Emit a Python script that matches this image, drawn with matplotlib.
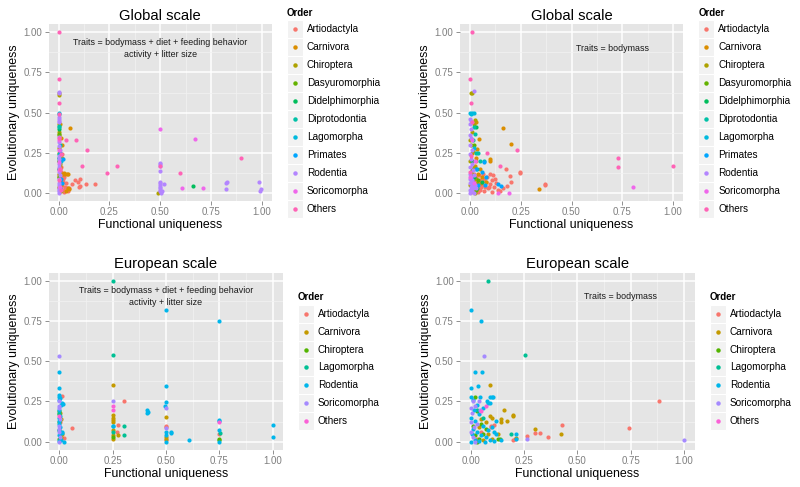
import matplotlib.pyplot as plt
from matplotlib.patches import Rectangle
from matplotlib.lines import Line2D

plt.rcParams['font.family'] = ['Liberation Sans', 'DejaVu Sans']

W, H = 800, 487

orders_glob = ['Artiodactyla', 'Carnivora', 'Chiroptera', 'Dasyuromorphia',
               'Didelphimorphia', 'Diprotodontia', 'Lagomorpha', 'Primates',
               'Rodentia', 'Soricomorpha', 'Others']
orders_eur = ['Artiodactyla', 'Carnivora', 'Chiroptera', 'Lagomorpha',
              'Rodentia', 'Soricomorpha', 'Others']

# ggplot default hue palette
colors_glob = ['#F8766D', '#DB8E00', '#AEA200', '#64B200', '#00BD5C', '#00C1A7',
               '#00BADE', '#00A6FF', '#B385FF', '#EF67EB', '#FF63B6']
colors_eur = ['#F8766D', '#C49A00', '#53B400', '#00C094', '#00B6EB', '#A58AFF', '#FB61D7']

tick_vals = [0, 0.25, 0.5, 0.75, 1.0]
tick_labels = ['0.00', '0.25', '0.50', '0.75', '1.00']

# --- Global scale, traits = bodymass + diet + feeding behavior + activity + litter size
g1_x = [
    [0.016, 0.012, 0.008, 0.005, 0.01, 0.003, 0.015, 0.02, 0.008, 0.012, 0.005, 0.018, 0.01, 0.003, 0.02, 0.006,
     0.025, 0.03, 0.035, 0.022, 0.04, 0.05, 0.045, 0.067, 0.079, 0.093, 0.105, 0.1, 0.103, 0.136, 0.179, 0.043, 0.028, 0.013],
    [0.057, 0.016, 0.01, 0.005, 0.003, 0.01, 0.02, 0.03, 0.04, 0.045, 0.05, 0.045, 0.035, 0.008, 0.012, 0.005, 0.015, 0.025],
    [0.0, 0.003, 0.0, 0.0, 0.003, 0.003, 0.0, 0.005, 0.0, 0.003, 0.0, 0.005, 0.0, 0.01, 0.49, 0.5],
    [0.0, 0.003, 0.0],
    [0.66, 0.0, 0.0],
    [0.0, 0.0, 0.005, 0.0],
    [0.0, 0.003, 0.0, 0.01],
    [0.02, 0.005, 0.0, 0.015, 0.01, 0.008],
    [0, 0, 0, 0, 0, 0, 0.003, 0, 0, 0.005, 0, 0, 0.003, 0, 0, 0.005, 0, 0, 0.003, 0, 0, 0, 0,
     0.5, 0.498, 0.5, 0.498, 0.5, 0.498, 0.5, 0.5, 0.498, 0.5, 0.5, 0.502, 0.516, 0.51, 0.83, 0.825, 0.826, 0.988, 0.998, 0.99],
    [0.498, 0.669, 0.607, 0.71, 0.0, 0.0, 0.003, 0.0, 0.005],
    [0.0, 0.0, 0.0, 0.0, 0.003, 0.037, 0.084, 0.138, 0.116, 0.285, 0.237, 0.597, 0.5, 0.895, 0.01, 0.005, 0.0, 0.01],
]
g1_y = [
    [0.24, 0.21, 0.19, 0.15, 0.13, 0.11, 0.10, 0.09, 0.08, 0.07, 0.06, 0.05, 0.04, 0.03, 0.02, 0.01,
     0.10, 0.04, 0.06, 0.07, 0.02, 0.03, 0.01, 0.054, 0.081, 0.07, 0.087, 0.037, 0.042, 0.058, 0.058, 0.03, 0.005, 0.16],
    [0.406, 0.30, 0.34, 0.43, 0.20, 0.12, 0.12, 0.12, 0.12, 0.115, 0.025, 0.03, 0.015, 0.08, 0.05, 0.16, 0.22, 0.125],
    [0.62, 0.61, 0.43, 0.38, 0.36, 0.28, 0.25, 0.18, 0.15, 0.12, 0.10, 0.07, 0.04, 0.01, 0.0, 0.005],
    [0.37, 0.22, 0.10],
    [0.044, 0.40, 0.20],
    [0.41, 0.42, 0.30, 0.24],
    [0.50, 0.49, 0.22, 0.20],
    [0.21, 0.25, 0.15, 0.06, 0.09, 0.03],
    [0.63, 0.62, 0.47, 0.46, 0.45, 0.44, 0.35, 0.32, 0.29, 0.27, 0.23, 0.21, 0.18, 0.16, 0.13, 0.11, 0.09, 0.06, 0.05, 0.03, 0.02, 0.01, 0.0,
     0.189, 0.18, 0.17, 0.137, 0.07, 0.06, 0.05, 0.04, 0.03, 0.02, 0.01, 0.0, 0.054, 0.01, 0.068, 0.064, 0.025, 0.069, 0.027, 0.01],
    [0.398, 0.334, 0.031, 0.033, 0.33, 0.27, 0.19, 0.14, 0.04],
    [1.0, 0.71, 0.56, 0.49, 0.34, 0.33, 0.33, 0.27, 0.17, 0.17, 0.126, 0.126, 0.168, 0.218, 0.24, 0.15, 0.08, 0.02],
]

# --- Global scale, traits = bodymass
g2_x = [
    [0.369, 0.369, 0.245, 0.245, 0.179, 0.197, 0.2, 0.18, 0.115, 0.11, 0.1, 0.09, 0.13, 0.12, 0.14, 0.15, 0.16, 0.1, 0.085,
     0.07, 0.06, 0.05, 0.04, 0.03, 0.07, 0.08, 0.065, 0.05, 0.04, 0.03, 0.025, 0.02, 0.095, 0.11, 0.125, 0.055, 0.035,
     0.015, 0.045, 0.075, 0.02, 0.03, 0.015],
    [0.161, 0.2, 0.1, 0.1, 0.342, 0.045, 0.036, 0.03, 0.05, 0.06, 0.02, 0.04, 0.025, 0.015, 0.03, 0.08, 0.055, 0.01],
    [0.005, 0.012, 0.026, 0.02, 0.01, 0.0, 0.005, 0.015, 0.0, 0.02, 0.01, 0.03, 0.0, 0.015, 0.035, 0.025],
    [0.02, 0.01, 0.04, 0.03],
    [0.03, 0.01, 0.02, 0.035, 0.06],
    [0.02, 0.025, 0.015, 0.03, 0.04, 0.05, 0.07, 0.035],
    [0.002, 0.01, 0.02, 0.005, 0.02],
    [0.079, 0.074, 0.14, 0.152, 0.07, 0.06, 0.04, 0.03, 0.01],
    [0.02, 0.0, 0.005, 0.0, 0.003, 0.0, 0.005, 0.0, 0.01, 0.0, 0.005, 0.01, 0.0, 0.015, 0.0, 0.005, 0.01, 0.0, 0.005,
     0.015, 0.0, 0.01, 0.02, 0.025, 0.02, 0.03, 0.0, 0.005, 0.012, 0.0],
    [0.805, 0.19, 0.14, 0.025, 0.02, 0.01, 0.0],
    [0.008, 0.0, 0.005, 0.01, 0.232, 0.084, 0.148, 0.73, 0.73, 1.0, 0.005, 0.0],
]
g2_y = [
    [0.056, 0.048, 0.133, 0.124, 0.151, 0.106, 0.07, 0.045, 0.11, 0.08, 0.055, 0.03, 0.06, 0.04, 0.02, 0.01, 0.03, 0.12, 0.1,
     0.09, 0.05, 0.02, 0.005, 0.01, 0.01, 0.07, 0.12, 0.08, 0.06, 0.1, 0.03, 0.07, 0.04, 0.005, 0.09, 0.035, 0.04,
     0.005, 0.11, 0.04, 0.12, 0.2, 0.15],
    [0.406, 0.303, 0.21, 0.2, 0.023, 0.334, 0.276, 0.22, 0.15, 0.1, 0.05, 0.12, 0.17, 0.09, 0.44, 0.07, 0.06, 0.25],
    [0.62, 0.62, 0.455, 0.43, 0.38, 0.33, 0.3, 0.26, 0.2, 0.16, 0.12, 0.09, 0.05, 0.02, 0.06, 0.0],
    [0.3, 0.14, 0.08, 0.02],
    [0.41, 0.2, 0.1, 0.03, 0.07],
    [0.41, 0.37, 0.33, 0.25, 0.25, 0.2, 0.2, 0.15],
    [0.5, 0.5, 0.5, 0.49, 0.28],
    [0.1, 0.052, 0.055, 0.045, 0.19, 0.13, 0.05, 0.15, 0.08],
    [0.632, 0.46, 0.45, 0.43, 0.4, 0.36, 0.34, 0.3, 0.27, 0.24, 0.21, 0.18, 0.16, 0.14, 0.12, 0.1, 0.08, 0.06, 0.04,
     0.03, 0.02, 0.01, 0.0, 0.05, 0.11, 0.03, 0.0, 0.07, 0.05, 0.09],
    [0.04, 0.0, 0.0, 0.2, 0.06, 0.33, 0.1],
    [1.0, 0.71, 0.56, 0.44, 0.27, 0.249, 0.168, 0.218, 0.164, 0.17, 0.23, 0.13],
]

# --- European scale, traits = bodymass + diet + feeding behavior + activity + litter size
e1_x = [
    [0.305, 0.277, 0.058, 0.011, 0.02, 0.5, 0.5, 0.5, 0.75, 0.27, 0.005, 0.01],
    [0.25, 0.25, 0.25, 0.25, 0.25, 0.252, 0.25, 0.25, 0.274, 0.5, 0.502, 0.5, 0.01, 0.012, 0.005, 0.01],
    [0.75, 0.75, 0.0, 0.0, 0.0, 0.0, 0.0, 0.25],
    [0.253, 0.253, 0.305, 0.305, 0.753, 0.25, 0.0],
    [0.5, 0.747, 0.0, 0.0, 0.5, 0.5, 0.497, 0.41, 0.415, 0.41, 0.522, 0.525, 0.606, 0.747, 0.748, 0.75, 0.75, 1.0, 1.0,
     0.5, 0.5, 0.5, 0.25, 0.252, 0.0, 0.0, 0.003, 0.0, 0.01, 0.018, 0.015, 0.0, 0.003, 0.0, 0.0, 0.0, 0.005, 0.0,
     0.012, 0.015, 0.0, 0.005, 0.0, 0.02, 0.008],
    [0.0, 0.25, 0.5, 0.5, 0.0, 0.0, 0.003, 0.0, 0.0, 0.0, 0.003, 0.0, 0.0],
    [0.25, 0.25, 0.75, 0.0],
]
e1_y = [
    [0.253, 0.106, 0.085, 0.284, 0.025, 0.1, 0.09, 0.01, 0.05, 0.06, 0.12, 0.05],
    [0.354, 0.165, 0.15, 0.135, 0.12, 0.07, 0.04, 0.02, 0.044, 0.155, 0.03, 0.02, 0.14, 0.05, 0.18, 0.03],
    [0.02, 0.01, 0.19, 0.17, 0.12, 0.02, 0.07, 0.03],
    [1.0, 0.538, 0.1, 0.044, 0.056, 0.06, 0.18],
    [0.816, 0.748, 0.433, 0.335, 0.344, 0.248, 0.22, 0.197, 0.186, 0.18, 0.062, 0.052, 0.01, 0.137, 0.128, 0.072, 0.0,
     0.104, 0.031, 0.06, 0.04, 0.0, 0.1, 0.095, 0.29, 0.28, 0.27, 0.26, 0.23, 0.235, 0.24, 0.2, 0.16, 0.15, 0.13,
     0.11, 0.09, 0.07, 0.06, 0.055, 0.04, 0.02, 0.005, 0.0, 0.01],
    [0.532, 0.255, 0.21, 0.085, 0.25, 0.22, 0.14, 0.1, 0.08, 0.06, 0.03, 0.0, 0.21],
    [0.225, 0.195, 0.12, 0.16],
]

# --- European scale, traits = bodymass
e2_x = [
    [0.881, 0.744, 0.426, 0.364, 0.325, 0.301, 0.262, 0.208, 0.093, 0.11, 0.093, 0.2, 0.05, 0.03],
    [0.092, 0.157, 0.2, 0.2, 0.142, 0.142, 0.172, 0.3, 0.425, 0.212, 0.126, 0.09, 0.1, 0.05, 0.07, 0.08, 0.06, 0.04, 0.1],
    [0.139, 0.13, 0.02, 0.03, 0.06, 0.04, 0.01, 0.05, 0.02, 0.07, 0.03],
    [0.08, 0.255, 0.19, 0.03, 0.06],
    [0.003, 0.05, 0.022, 0.052, 0.0, 0.034, 0.09, 0.098, 0.106, 0.08, 0.09, 0.214, 0.214, 0.119, 0.14, 0.0, 0.01,
     0.03, 0.015, 0.04, 0.0, 0.02, 0.06, 0.01, 0.03, 0.05, 0.07, 0.09, 0.0, 0.02, 0.04, 0.065, 0.11, 0.08, 0.12,
     0.1, 0.06, 0.075, 0.045, 0.005, 0.11],
    [0.061, 1.0, 0.262, 0.0, 0.01, 0.02, 0.005, 0.0, 0.015, 0.0, 0.01, 0.02, 0.045, 0.03, 0.04],
    [0.073, 0.05],
]
e2_y = [
    [0.25, 0.083, 0.104, 0.027, 0.056, 0.056, 0.035, 0.015, 0.097, 0.104, 0.09, 0.01, 0.06, 0.02],
    [0.352, 0.199, 0.164, 0.158, 0.143, 0.12, 0.13, 0.08, 0.046, 0.025, 0.048, 0.16, 0.15, 0.14, 0.12, 0.045, 0.01, 0.09, 0.02],
    [0.019, 0.015, 0.28, 0.19, 0.05, 0.02, 0.1, 0.11, 0.04, 0.08, 0.0],
    [1.0, 0.538, 0.05, 0.2, 0.15],
    [0.816, 0.748, 0.433, 0.433, 0.335, 0.344, 0.276, 0.276, 0.276, 0.242, 0.242, 0.046, 0.02, 0.128, 0.012, 0.28, 0.26,
     0.23, 0.2, 0.17, 0.15, 0.13, 0.1, 0.08, 0.06, 0.04, 0.03, 0.01, 0.0, 0.01, 0.005, 0.0, 0.06, 0.07, 0.05,
     0.09, 0.21, 0.25, 0.28, 0.05, 0.005],
    [0.532, 0.008, 0.02, 0.21, 0.25, 0.22, 0.18, 0.12, 0.09, 0.06, 0.03, 0.0, 0.2, 0.11, 0.25],
    [0.224, 0.19],
]

note_all = 'Traits = bodymass + diet + feeding behavior\nactivity + litter size'
note_bm = 'Traits = bodymass'

fig = plt.figure(figsize=(8, 4.87), dpi=100)


def draw_panel(box, xs, ys, orders, colors, title, title_y, note, note_x,
               leg_x, leg_title_y, leg_y0, leg_step):
    l, t, r, b = box
    ax = fig.add_axes([l / W, 1 - b / H, (r - l) / W, (b - t) / H])
    ax.set_facecolor('#E5E5E5')
    for xv, yv, c in zip(xs, ys, colors):
        ax.scatter(xv, yv, s=9, color=c, linewidths=0, zorder=3)
    ax.set_xlim(-0.05, 1.05)
    ax.set_ylim(-0.05, 1.05)
    ax.set_xticks(tick_vals)
    ax.set_xticklabels(tick_labels)
    ax.set_yticks(tick_vals)
    ax.set_yticklabels(tick_labels)
    ax.set_xticks([0.125, 0.375, 0.625, 0.875], minor=True)
    ax.set_yticks([0.125, 0.375, 0.625, 0.875], minor=True)
    ax.grid(which='major', color='white', linewidth=1.1)
    ax.grid(which='minor', color='#F2F2F2', linewidth=0.5)
    ax.set_axisbelow(True)
    for s in ax.spines.values():
        s.set_visible(False)
    ax.tick_params(which='major', length=2.6, width=0.6, color='#7F7F7F',
                   labelcolor='#7F7F7F', labelsize=7.0, pad=2.0)
    ax.tick_params(which='minor', length=0)
    ax.text(note_x, 0.9, note, ha='center', va='center', fontsize=6.4,
            linespacing=1.45, color='#1A1A1A', zorder=4)

    cx = (l + r) / 2
    cy = (t + b) / 2
    fig.text(cx / W, 1 - title_y / H, title, ha='center', va='baseline', fontsize=10.6)
    fig.text(cx / W, 1 - (b + 24) / H, 'Functional uniqueness', ha='center', va='center', fontsize=8.9)
    fig.text((l - 34.5) / W, 1 - cy / H, 'Evolutionary uniqueness', ha='center', va='center',
             rotation=90, fontsize=8.9)

    # legend
    fig.text(leg_x / W, 1 - leg_title_y / H, 'Order', ha='left', va='center',
             fontsize=7, fontweight='bold')
    for i, (name, c) in enumerate(zip(orders, colors)):
        yc = leg_y0 + i * leg_step
        fig.add_artist(Rectangle((leg_x / W, 1 - (yc + leg_step / 2) / H), 16 / W, leg_step / H,
                                 transform=fig.transFigure, facecolor='#F2F2F2',
                                 edgecolor='white', linewidth=0.8))
        fig.add_artist(Line2D([(leg_x + 8) / W], [1 - yc / H], transform=fig.transFigure,
                              marker='o', markersize=2.2, color=c, linestyle='none'))
        fig.text((leg_x + 20) / W, 1 - yc / H, name, ha='left', va='center', fontsize=7.2)


draw_panel((48.5, 24.3, 272, 201), g1_x, g1_y, orders_glob, colors_glob, 'Global scale', 20.5,
           note_all, 0.5, 286.7, 13, 29.3, 17.93)
draw_panel((459.9, 24.3, 683.1, 201), g2_x, g2_y, orders_glob, colors_glob, 'Global scale', 20.5,
           note_bm, 0.7, 698.3, 13, 29.3, 17.93)
draw_panel((48.6, 272.6, 283.4, 449.8), e1_x, e1_y, orders_eur, colors_eur, 'European scale', 268,
           note_all, 0.5, 297.7, 296.7, 314, 17.8)
draw_panel((460.0, 272.6, 694.7, 449.8), e2_x, e2_y, orders_eur, colors_eur, 'European scale', 268,
           note_bm, 0.7, 709.7, 296.7, 314, 17.8)

fig.savefig('out.png', dpi=100)
